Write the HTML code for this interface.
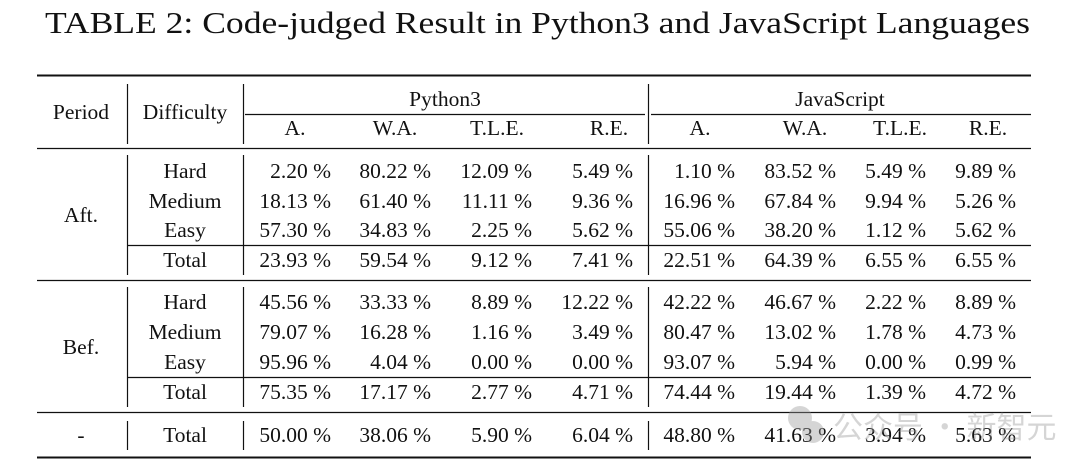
<!DOCTYPE html>
<html><head><meta charset="utf-8"><style>
html,body{margin:0;padding:0;background:#fff;}
svg{display:block;}
text{font-family:"Liberation Serif","Noto Serif CJK SC",serif;fill:#111;}
</style></head><body>
<svg width="1080" height="468" viewBox="0 0 1080 468">
<text x="45" y="33" font-size="31" textLength="985" lengthAdjust="spacingAndGlyphs">TABLE 2: Code-judged Result in Python3 and JavaScript Languages</text>
<g stroke="#111">
<line x1="37" x2="1031" y1="75.5" y2="75.5" stroke-width="2"/>
<line x1="245" x2="645" y1="114.5" y2="114.5" stroke-width="1.2"/>
<line x1="651" x2="1031" y1="114.5" y2="114.5" stroke-width="1.2"/>
<line x1="37" x2="1031" y1="148.5" y2="148.5" stroke-width="1.3"/>
<line x1="127" x2="1031" y1="245.5" y2="245.5" stroke-width="1.2"/>
<line x1="37" x2="1031" y1="280.5" y2="280.5" stroke-width="1.3"/>
<line x1="127" x2="1031" y1="377.5" y2="377.5" stroke-width="1.2"/>
<line x1="37" x2="1031" y1="412.5" y2="412.5" stroke-width="1.3"/>
<line x1="37" x2="1031" y1="457.5" y2="457.5" stroke-width="2"/>
<g stroke-width="1.2">
<line x1="127.5" x2="127.5" y1="84" y2="144"/><line x1="243.5" x2="243.5" y1="84" y2="144"/><line x1="648.5" x2="648.5" y1="84" y2="144"/>
<line x1="127.5" x2="127.5" y1="155" y2="275"/><line x1="243.5" x2="243.5" y1="155" y2="275"/><line x1="648.5" x2="648.5" y1="155" y2="275"/>
<line x1="127.5" x2="127.5" y1="287" y2="407"/><line x1="243.5" x2="243.5" y1="287" y2="407"/><line x1="648.5" x2="648.5" y1="287" y2="407"/>
<line x1="127.5" x2="127.5" y1="421" y2="450"/><line x1="243.5" x2="243.5" y1="421" y2="450"/><line x1="648.5" x2="648.5" y1="421" y2="450"/>
</g></g>
<g font-size="21.5" text-anchor="middle">
<text x="81" y="119">Period</text><text x="185" y="119">Difficulty</text>
<text x="445" y="106">Python3</text><text x="840" y="106">JavaScript</text>
<text x="295" y="135">A.</text><text x="395" y="135">W.A.</text><text x="497" y="135">T.L.E.</text><text x="609" y="135">R.E.</text>
<text x="700" y="135">A.</text><text x="805" y="135">W.A.</text><text x="900" y="135">T.L.E.</text><text x="988" y="135">R.E.</text>
<text x="81" y="222">Aft.</text><text x="81" y="354">Bef.</text><text x="81" y="442">-</text>
<text x="185" y="178">Hard</text><text x="185" y="208">Medium</text><text x="185" y="237">Easy</text><text x="185" y="267">Total</text>
<text x="185" y="309">Hard</text><text x="185" y="339">Medium</text><text x="185" y="369">Easy</text><text x="185" y="399">Total</text>
<text x="185" y="442">Total</text>
</g>
<g font-size="21.5" text-anchor="end">
<g transform="translate(0,178)"><text x="331">2.20 %</text><text x="431">80.22 %</text><text x="532">12.09 %</text><text x="633">5.49 %</text><text x="735">1.10 %</text><text x="836">83.52 %</text><text x="926">5.49 %</text><text x="1016">9.89 %</text></g>
<g transform="translate(0,208)"><text x="331">18.13 %</text><text x="431">61.40 %</text><text x="532">11.11 %</text><text x="633">9.36 %</text><text x="735">16.96 %</text><text x="836">67.84 %</text><text x="926">9.94 %</text><text x="1016">5.26 %</text></g>
<g transform="translate(0,237)"><text x="331">57.30 %</text><text x="431">34.83 %</text><text x="532">2.25 %</text><text x="633">5.62 %</text><text x="735">55.06 %</text><text x="836">38.20 %</text><text x="926">1.12 %</text><text x="1016">5.62 %</text></g>
<g transform="translate(0,267)"><text x="331">23.93 %</text><text x="431">59.54 %</text><text x="532">9.12 %</text><text x="633">7.41 %</text><text x="735">22.51 %</text><text x="836">64.39 %</text><text x="926">6.55 %</text><text x="1016">6.55 %</text></g>
<g transform="translate(0,309)"><text x="331">45.56 %</text><text x="431">33.33 %</text><text x="532">8.89 %</text><text x="633">12.22 %</text><text x="735">42.22 %</text><text x="836">46.67 %</text><text x="926">2.22 %</text><text x="1016">8.89 %</text></g>
<g transform="translate(0,339)"><text x="331">79.07 %</text><text x="431">16.28 %</text><text x="532">1.16 %</text><text x="633">3.49 %</text><text x="735">80.47 %</text><text x="836">13.02 %</text><text x="926">1.78 %</text><text x="1016">4.73 %</text></g>
<g transform="translate(0,369)"><text x="331">95.96 %</text><text x="431">4.04 %</text><text x="532">0.00 %</text><text x="633">0.00 %</text><text x="735">93.07 %</text><text x="836">5.94 %</text><text x="926">0.00 %</text><text x="1016">0.99 %</text></g>
<g transform="translate(0,399)"><text x="331">75.35 %</text><text x="431">17.17 %</text><text x="532">2.77 %</text><text x="633">4.71 %</text><text x="735">74.44 %</text><text x="836">19.44 %</text><text x="926">1.39 %</text><text x="1016">4.72 %</text></g>
<g transform="translate(0,442)"><text x="331">50.00 %</text><text x="431">38.06 %</text><text x="532">5.90 %</text><text x="633">6.04 %</text><text x="735">48.80 %</text><text x="836">41.63 %</text><text x="926">3.94 %</text><text x="1016">5.63 %</text></g>
</g>
<g opacity="0.4">
<circle cx="800" cy="418" r="12" fill="#999"/><circle cx="813" cy="432" r="11" fill="#999"/>
<text x="833" y="438" font-size="30" style="fill:#999;font-family:'Noto Sans CJK SC',sans-serif">公众号 · 新智元</text>
</g>
</svg>
</body></html>
